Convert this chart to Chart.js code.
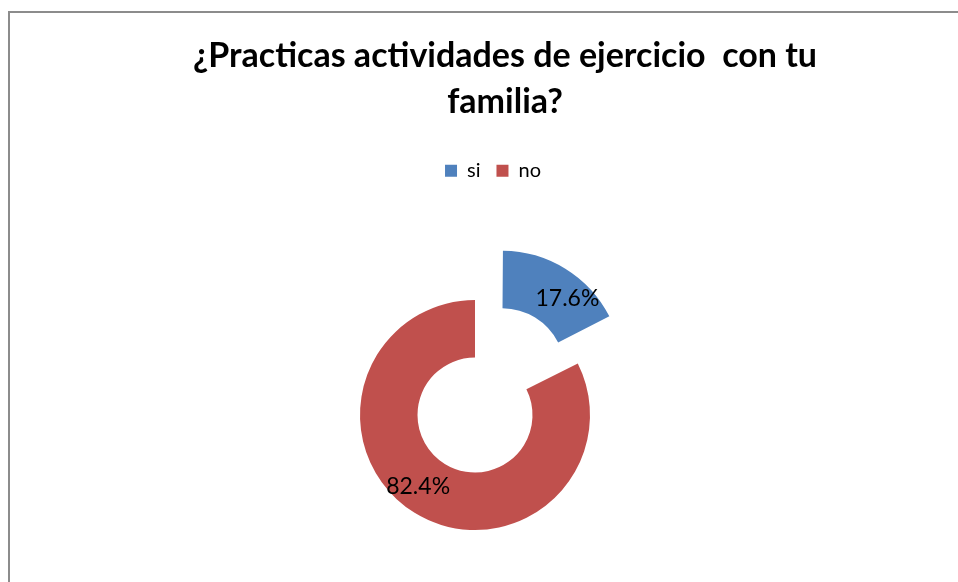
<!DOCTYPE html>
<html>
<head>
<meta charset="utf-8">
<script src="https://cdn.jsdelivr.net/npm/chart.js@4"></script>
<style>
  html, body { margin: 0; padding: 0; background: #fff; overflow: hidden; }
  #frame {
    position: absolute; left: 8px; top: 11px; width: 1000px; height: 640px;
    border: 2px solid #8c8c8c; box-sizing: border-box;
  }
  #wrap { position: absolute; left: 0; top: 0; width: 958px; height: 582px; }
</style>
</head>
<body>
<div id="frame"></div>
<div id="wrap"><canvas id="donut" width="958" height="582"></canvas></div>
<script>
var categories = ["si", "no"];
var values = [17.6, 82.4];
var colors = ["#4F81BD", "#C0504D"];
var explodePx = [57, 0];

// Chart.js moves an arc by offset/4 * (2 - sin(angle)), so turn pixels into its offset option
var total = values.reduce(function (s, v) { return s + v; }, 0);
var explode = explodePx.map(function (px, i) {
  var circ = values[i] / total * 2 * Math.PI;
  var fix = 1 - Math.sin(Math.min(Math.PI, circ));
  return px * 4 / (1 + fix);
});

// put the plot area where Excel put it (not centered under the title)
var plotShift = {
  id: "plotShift",
  afterLayout: function (chart) {
    var a = chart.chartArea;
    var cx = 475, cy = 415, half = 115;
    a.left = cx - half; a.right = cx + half;
    a.top = cy - half; a.bottom = cy + half;
    a.width = half * 2; a.height = half * 2;
    chart.legend.left -= 12;
    chart.legend.right -= 12;
  }
};

var pctLabels = {
  id: "pctLabels",
  afterDatasetsDraw: function (chart) {
    var ctx = chart.ctx;
    var meta = chart.getDatasetMeta(0);
    ctx.save();
    ctx.font = "23px Lato";
    ctx.fillStyle = "#000";
    ctx.textAlign = "center";
    ctx.textBaseline = "middle";
    meta.data.forEach(function (arc, i) {
      var mid = (arc.startAngle + arc.endAngle) / 2 + 0.12;
      var r = (arc.innerRadius + arc.outerRadius) / 2 + 5 + explodePx[i];
      var x = arc.x + Math.cos(mid) * r;
      var y = arc.y + Math.sin(mid) * r;
      ctx.fillText((values[i] / total * 100).toFixed(1) + "%", x, y);
    });
    ctx.restore();
  }
};

var ctx = document.getElementById("donut");

new Chart(ctx, {
  type: "doughnut",
  data: {
    labels: categories,
    datasets: [
      {
        data: values,
        backgroundColor: colors,
        borderWidth: 0,
        offset: explode,
        clip: false
      }
    ]
  },
  options: {
    responsive: false,
    maintainAspectRatio: false,
    animation: false,
    cutout: "50%",
    radius: 115,
    layout: { padding: { left: 52 } },
    plugins: {
      title: {
        display: true,
        text: ["¿Practicas actividades de ejercicio  con tu", "familia?"],
        color: "#000",
        font: { family: "Lato", size: 34, weight: "bold", lineHeight: 1.35 },
        padding: { top: 33, bottom: 20 }
      },
      legend: {
        display: true,
        position: "top",
        labels: {
          boxWidth: 12,
          boxHeight: 12,
          color: "#000",
          font: { family: "Lato", size: 20 },
          padding: 16
        }
      },
      tooltip: { enabled: false }
    }
  },
  plugins: [plotShift, pctLabels]
});
</script>
</body>
</html>
